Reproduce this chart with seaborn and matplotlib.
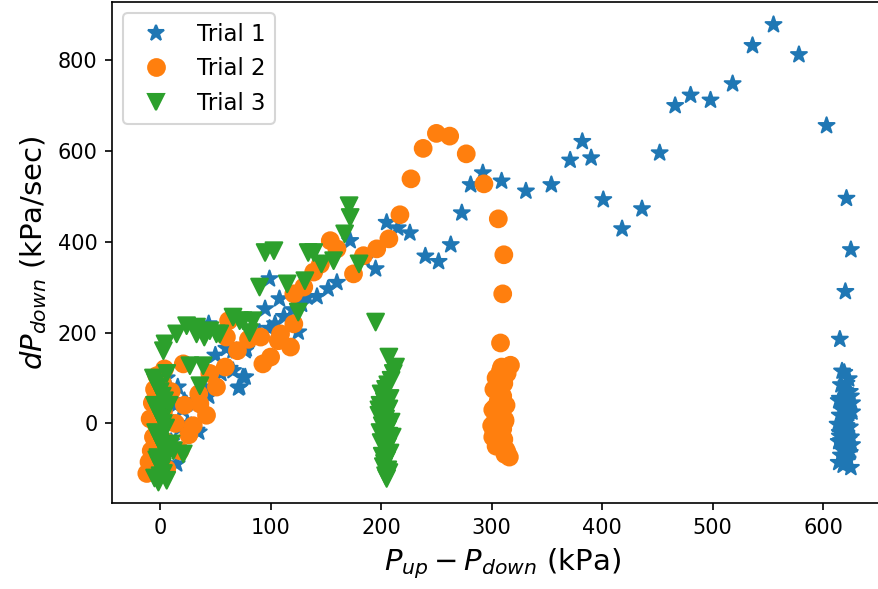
import numpy as np
import pandas as pd
import matplotlib
matplotlib.use("Agg")
import matplotlib.pyplot as plt
import seaborn as sns

# Trial 1: pressure difference (kPa) and rate of change of downstream pressure (kPa/sec)
trial1_dp = [-4, -2, 0, 2, 4, 6, 8, 10, 12, 14, 15, 16, 18, 20, 22, 24, 25, 28, 30, 33, 35,
             40, 44, 44, 50, 55, 60, 63, 66, 66, 69, 71, 72, 75, 77, 77, 78, 90, 95, 99, 99,
             104, 108, 112, 120, 125, 128, 133, 142, 152, 160, 172, 185, 195, 205, 215, 226,
             240, 252, 263, 273, 281, 292, 309, 331, 354, 371, 382, 390, 401, 418, 436, 452,
             466, 480, 498, 518, 536, 555, 578, 603, 621, 625, 620, 615,
             619, 623, 616, 620, 625, 614, 621, 618, 626, 615, 622, 620, 613, 624, 618, 621,
             615, 623, 614, 626, 620, 617, 624, 616, 621, 622, 614, 618, 625, 620, 615, 623,
             617, 621, 626, 616, 620, 624, 618, 622, 617, 623, 619, 615, 625, 621]
trial1_rate = [10, -60, -20, 20, 60, 100, -90, -40, 0, 40, -89, 80, -10, 30, 50, 43, 0, -5, 40,
               -15, -19, 80, 60, 219, 150, 110, 165, 121, 160, 116, 160, 78, 80, 102, 102, 160,
               164, 200, 252, 318, 209, 219, 274, 235, 250, 201, 262, 278, 279, 296, 310, 402,
               360, 340, 442, 430, 419, 368, 356, 393, 463, 525, 551, 533, 511, 525, 579, 620,
               584, 492, 428, 472, 595, 699, 722, 711, 747, 831, 877, 811, 655, 495, 382, 290,
               185,
               112, 98, 85, 72, 60, 50, 41, 33, 25, 18, 12, 5, -2, -8, -15, -22, -28, -35, -40,
               -47, -53, -58, -64, -70, -75, -81, -86, -92, -97, -60, -20, 10, 30, -5, 45, -38,
               -12, 70, -50, -78, 115, 22, -88, 55, -30, 88]

# Trial 2
trial2_dp = [-12, -10, -8, -6, -4, -2, 0, 2, 4, 6, 8, -9, -7, -5, -3, -1, 1, 3, 5, 10, 14,
             18, 21, 22, 26, 30, 35, 36, 42, 45, 51, 59, 60, 62, 70, 80, 91, 93, 100, 107, 109,
             118, 121, 121, 130, 139, 145, 154, 160, 175, 184, 196, 207, 217, 227, 238, 250,
             262, 277, 293, 306, 311, 310, 308, 317, 309,
             308, 314, 304, 311, 302, 309, 306, 313, 301, 308, 304, 312, 302, 307, 310, 303,
             308, 301, 306, 310, 304, 302, 308, 312, 305, 303, 310, 313, 314, 316, 312, 307,
             300, 306, 311]
trial2_rate = [-110, -85, -60, -30, 0, 30, 60, 90, 120, -100, -50, 10, 45, 75, 105, -20, -70,
               25, -40, 70, 0, -60, 131, 40, -25, -5, 65, 43, 18, 110, 80, 124, 190, 226, 160,
               185, 190, 131, 146, 182, 197, 168, 219, 285, 300, 333, 350, 402, 384, 329, 369,
               384, 406, 459, 538, 605, 638, 632, 593, 527, 450, 371, 285, 177, 128, 124,
               116, 110, 100, 88, 75, 62, 50, 40, 30, 22, 15, 8, 0, -6, -12, -18, -25, -30, -38,
               -44, -50, -20, -10, 5, 20, 35, 60, -58, -64, -74, -68, 45, -5, 12, -35]

# Trial 3
trial3_dp = [-6, -4, -2, 0, 2, 4, -5, -3, -1, 1, 3, 5, -4, -2, 0, 2, 4, 6, -3, -1, 1, 3, -5,
             0, 2, -2, 8, 10, 12, 6, -1.5, 6, 3, 4.5, 15, 21, 24, 27, 33, 33, 36, 39, 40, 45,
             51, 54, 66, 72, 75, 81, 84, 90, 95, 103, 115, 125, 131, 134, 139, 146, 157, 167,
             171, 172, 180, 195, 207, 213,
             211, 209, 206, 204, 200, 208, 203, 199, 207, 205, 198, 204, 209, 201, 206, 199,
             207, 203, 200, 206, 204, 208, 201, 205, 203, 202, 206, 207, 204, 205, 198, 210]
trial3_rate = [100, 90, 80, 70, 60, 50, 40, 30, 20, 10, 0, -10, -20, -30, -40, -50, -60, -70,
               -80, -90, -100, -110, -120, -115, -95, -75, 40, -45, -60, 110, -129, -125, 160,
               175, 197, -67, 215, 127, 197, 212, 83, 127, 190, 204, 197, 197, 234, 226, 226,
               200, 226, 300, 376, 380, 307, 245, 314, 376, 376, 351, 358, 417, 479, 453, 351,
               223, 146, 124,
               110, 95, 85, 75, 65, 55, 48, 40, 32, 25, 18, 10, 3, -5, -12, -20, -28, -35, -42,
               -50, -58, -65, -72, -80, -88, -95, -102, -108, -115, -121, 30, -30]

trial_names = ["Trial 1", "Trial 2", "Trial 3"]

df = pd.concat([
    pd.DataFrame({"dp": trial1_dp, "rate": trial1_rate, "trial": trial_names[0]}),
    pd.DataFrame({"dp": trial2_dp, "rate": trial2_rate, "trial": trial_names[1]}),
    pd.DataFrame({"dp": trial3_dp, "rate": trial3_rate, "trial": trial_names[2]}),
], ignore_index=True)

sns.set_style("ticks")
plt.rcParams["font.family"] = ["DejaVu Sans"]
plt.rcParams["text.color"] = "black"
plt.rcParams["axes.labelcolor"] = "black"
plt.rcParams["xtick.color"] = "black"
plt.rcParams["ytick.color"] = "black"

W, H = 878, 589
fig = plt.figure(figsize=(W / 150, H / 150), dpi=150)
# axes extends a little past the right edge of the canvas
ax = fig.add_axes([112 / W, (H - 503) / H, (894 - 112) / W, (503 - 2) / H])

sns.scatterplot(
    data=df, x="dp", y="rate", hue="trial", style="trial",
    markers={"Trial 1": "*", "Trial 2": "o", "Trial 3": "v"},
    palette=["#1f77b4", "#ff7f0e", "#2ca02c"],
    s=64, edgecolor="face", linewidth=1, ax=ax,
)

ax.set_xlim(-43.5, 664)
ax.set_ylim(-175, 927)
ax.set_xticks([0, 100, 200, 300, 400, 500, 600])
ax.set_yticks([0, 200, 400, 600, 800])
ax.tick_params(labelsize=10, length=3.5, width=0.8, direction="out", colors="black")
for sp in ax.spines.values():
    sp.set_linewidth(0.8)
    sp.set_color("black")

ax.set_xlabel(r"$P_{up} - P_{down}$ (kPa)", fontsize=14, color="black")
ax.set_ylabel(r"$dP_{down}$ (kPa/sec)", fontsize=14, color="black")

sns.move_legend(ax, "upper left", title=None, fontsize=11, frameon=True)
for t in ax.get_legend().get_texts():
    t.set_color("black")

fig.savefig("out.png", dpi=150)
